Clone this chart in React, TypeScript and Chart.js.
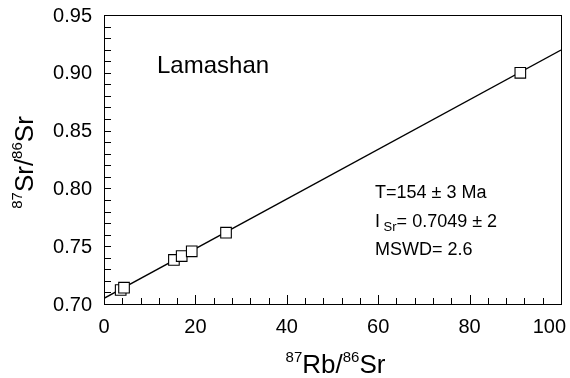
import React, { useEffect, useRef } from "react";
import { Chart, registerables } from "chart.js";

Chart.register(...registerables);

// Sample data: 87Rb/86Sr vs 87Sr/86Sr
const rbSr = [3.65, 4.38, 15.3, 17.0, 19.2, 26.7, 91.1];
const srSr = [0.7121, 0.7141, 0.7381, 0.7415, 0.7456, 0.7617, 0.9];

// Isochron line endpoints
const isoX = [0, 100];
const isoY = [0.7049, 0.9197];

// Axis ranges and ticks
const xMin = 0;
const xMax = 100;
const yMin = 0.7;
const yMax = 0.95;
const xMajorTicks = [0, 20, 40, 60, 80, 100];
const xMinorStep = 4;
const yMajorTicks = [0.7, 0.75, 0.8, 0.85, 0.9, 0.95];
const yMinorStep = 0.01;

const sampleName = "Lamashan";
const ageText = "T=154 ± 3 Ma";
const isrValue = "= 0.7049 ± 2";
const mswdText = "MSWD= 2.6";

const FONT = "'Liberation Sans', Arial, sans-serif";

const decorPlugin = {
  id: "decor",
  afterDraw(chart: any) {
    const ctx = chart.ctx;
    const { left, right, top, bottom } = chart.chartArea;
    const xs = chart.scales.x;
    const ys = chart.scales.y;
    ctx.save();
    ctx.strokeStyle = "#000";
    ctx.fillStyle = "#000";
    ctx.lineWidth = 1;
    // frame
    ctx.strokeRect(Math.round(left) + 0.5, Math.round(top) + 0.5, Math.round(right - left), Math.round(bottom - top));

    // x ticks (inside)
    for (let v = xMin; v <= xMax + 1e-9; v += xMinorStep) {
      const px = Math.round(xs.getPixelForValue(v)) + 0.5;
      ctx.beginPath();
      ctx.moveTo(px, bottom);
      ctx.lineTo(px, bottom - 6);
      ctx.stroke();
    }
    for (const t of xMajorTicks) {
      const px = Math.round(xs.getPixelForValue(t)) + 0.5;
      ctx.beginPath();
      ctx.moveTo(px, bottom);
      ctx.lineTo(px, bottom - 9);
      ctx.stroke();
    }
    // y ticks (inside)
    const nY = Math.round((yMax - yMin) / yMinorStep);
    for (let i = 0; i <= nY; i++) {
      const v = yMin + i * yMinorStep;
      const py = Math.round(ys.getPixelForValue(v)) + 0.5;
      ctx.beginPath();
      ctx.moveTo(left, py);
      ctx.lineTo(left + 7, py);
      ctx.stroke();
    }

    // tick labels
    ctx.font = `20px ${FONT}`;
    ctx.textBaseline = "alphabetic";
    for (const t of xMajorTicks) {
      const px = xs.getPixelForValue(t);
      const label = String(t);
      const w = ctx.measureText(label).width;
      let x = px - w / 2;
      if (x + w > chart.width - 4) x = chart.width - 4 - w;
      ctx.textAlign = "left";
      ctx.fillText(label, x, bottom + 29);
    }
    ctx.textAlign = "right";
    ctx.textBaseline = "middle";
    for (const t of yMajorTicks) {
      const py = ys.getPixelForValue(t);
      ctx.fillText(t.toFixed(2), left - 12, py + 1);
    }

    // x axis title: 87Rb/86Sr
    ctx.textBaseline = "alphabetic";
    ctx.textAlign = "left";
    const bigX = `26px ${FONT}`;
    const supX = `15px ${FONT}`;
    const partsX: [string, boolean][] = [["87", true], ["Rb/", false], ["86", true], ["Sr", false]];
    let totalW = 0;
    for (const [s, sup] of partsX) {
      ctx.font = sup ? supX : bigX;
      totalW += ctx.measureText(s).width;
    }
    let cx = (left + right) / 2 - totalW / 2 + 3;
    const baseX = 373;
    for (const [s, sup] of partsX) {
      ctx.font = sup ? supX : bigX;
      ctx.fillText(s, cx, sup ? baseX - 11 : baseX);
      cx += ctx.measureText(s).width;
    }

    // y axis title (rotated)
    ctx.save();
    ctx.translate(33, (top + bottom) / 2 + 3);
    ctx.rotate(-Math.PI / 2);
    const partsY: [string, boolean][] = [["87", true], ["Sr/", false], ["86", true], ["Sr", false]];
    totalW = 0;
    for (const [s, sup] of partsY) {
      ctx.font = sup ? supX : bigX;
      totalW += ctx.measureText(s).width;
    }
    cx = -totalW / 2;
    for (const [s, sup] of partsY) {
      ctx.font = sup ? supX : bigX;
      ctx.fillText(s, cx, sup ? -11 : 0);
      cx += ctx.measureText(s).width;
    }
    ctx.restore();

    // sample name
    ctx.font = `24px ${FONT}`;
    ctx.fillText(sampleName, 157, 73);

    // annotation
    ctx.font = `18px ${FONT}`;
    ctx.fillText(ageText, 375, 198);
    ctx.fillText("I", 375, 227);
    let ax = 375 + ctx.measureText("I").width;
    ctx.font = `13px ${FONT}`;
    ctx.fillText(" Sr", ax, 231);
    ax += ctx.measureText(" Sr").width;
    ctx.font = `18px ${FONT}`;
    ctx.fillText(isrValue, ax, 227);
    ctx.fillText(mswdText, 375, 255);
    ctx.restore();
  },
};

export default function App() {
  const ref = useRef<HTMLCanvasElement | null>(null);
  useEffect(() => {
    if (!ref.current) return;
    const chart = new Chart(ref.current, {
      type: "scatter",
      data: {
        datasets: [
          {
            label: "samples",
            data: rbSr.map((x, i) => ({ x, y: srSr[i] })),
            pointStyle: "rect",
            pointRadius: 7.5,
            pointBackgroundColor: "#ffffff",
            pointBorderColor: "#000000",
            pointBorderWidth: 1.1,
            showLine: false,
            order: 0,
          },
          {
            label: "isochron",
            data: isoX.map((x, i) => ({ x, y: isoY[i] })),
            showLine: true,
            borderColor: "#000000",
            borderWidth: 1.4,
            pointRadius: 0,
            order: 1,
          },
        ],
      },
      options: {
        responsive: false,
        animation: false,
        events: [],
        layout: { padding: { left: 104, right: 9, top: 15, bottom: 74 } },
        plugins: { legend: { display: false }, tooltip: { enabled: false } },
        scales: {
          x: { type: "linear", min: xMin, max: xMax, display: false },
          y: { type: "linear", min: yMin, max: yMax, display: false },
        },
      },
      plugins: [decorPlugin],
    });
    return () => chart.destroy();
  }, []);
  return (
    <div style={{ position: "absolute", left: 0, top: 0, width: 570, height: 378, background: "#fff" }}>
      <canvas ref={ref} width={570} height={378} style={{ display: "block" }} />
    </div>
  );
}
